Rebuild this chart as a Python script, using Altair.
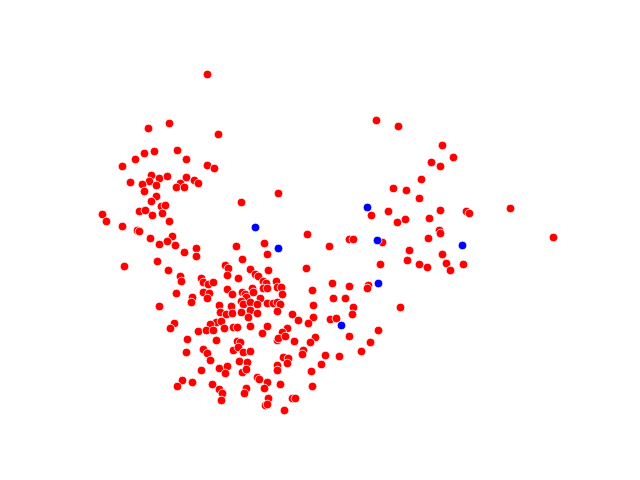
import altair as alt
import pandas as pd

red_pts = [
    (207,74),(169,123),(148,128),(218,134),(154,151),(144,153),(177,150),(135,159),(186,159),(122,166),(207,165),(214,168),
    (130,182),(151,175),(149,181),(159,178),(167,176),(186,177),(194,180),
    (142,184),(156,185),(180,183),(198,183),(176,187),(184,187),(144,191),
    (156,196),(151,201),(161,206),(165,205),(241,202),(102,214),(106,221),(139,211),(145,210),(152,215),(162,213),
    (169,221),(122,226),(137,230),(139,231),(150,238),(172,236),(167,241),(159,244),(175,245),(184,252),(196,248),
    (196,256),(236,246),
    (278,193),(393,188),(406,190),(371,215),(388,211),(397,222),(405,219),(307,234),(264,243),(267,254),(329,246),
    (349,239),(353,239),(382,242),(409,250),
    (376,120),(398,126),
    (442,145),(453,157),(431,162),(440,166),(421,179),
    (419,198),(440,210),(466,211),(469,213),(510,208),(429,218),(439,230),(440,233),(428,238),(553,237),(442,254),
    (419,264),(427,267),(446,263),(450,270),(463,264),(407,260),
    (380,264),(332,283),(349,286),(368,285),(367,288),(312,290),(333,298),(345,298),(353,307),(400,307),(313,305),
    (313,317),(352,314),(330,319),(336,318),(349,336),(378,330),(315,337),(310,342),(370,342),(325,355),(339,356),
    (361,351),(321,364),(311,371),(312,386),
    (124,266),(157,261),(159,306),
    (168,270),(180,276),(181,281),(201,278),(203,282),(208,284),(213,282),(225,265),(228,268),(227,275),(176,293),
    (203,292),(209,293),(207,298),(192,297),(191,302),(227,289),(232,294),(219,305),(231,306),(220,312),(226,314),
    (232,313),(174,323),(170,328),(216,322),(221,321),(210,324),(224,328),(233,327),(198,331),(206,330),(213,330),
    (242,259),(250,269),(268,270),(306,268),(238,278),(255,274),(258,276),(263,281),(266,283),(276,281),(252,288),
    (263,288),(267,288),(277,287),(281,287),(242,292),(245,294),(253,292),(282,294),(246,297),(241,301),(243,304),
    (250,302),(260,298),(267,303),(273,303),(257,304),(277,302),(280,304),(250,310),(241,312),(257,313),(248,317),
    (277,311),(292,314),(298,320),(308,323),(237,327),(250,326),(267,326),(287,328),(262,333),(282,332),
    (187,339),(216,340),(186,352),(203,349),(207,353),(210,360),(233,350),(201,370),(219,368),(227,366),(225,373),
    (182,380),(177,386),(192,382),(212,384),(219,389),(222,393),(221,400),
    (237,341),(240,342),(238,347),(277,340),(278,338),(285,336),(294,341),(303,350),(302,354),(243,352),(250,351),
    (239,361),(247,362),(242,372),(246,369),(283,357),(288,358),(287,363),(277,365),(277,370),(257,377),(259,379),
    (267,382),(264,388),(280,384),(246,388),(244,393),(292,398),(295,398),(268,398),(265,405),(267,404),(284,410),
]
blue_pts = [(255,227),(278,248),(367,207),(377,240),(462,245),(378,283),(341,325)]

red_x = [p[0] for p in red_pts]
red_y = [p[1] for p in red_pts]
blue_x = [p[0] for p in blue_pts]
blue_y = [p[1] for p in blue_pts]

df = pd.DataFrame({
    "x": red_x + blue_x,
    "y": red_y + blue_y,
    "group": ["red"] * len(red_x) + ["blue"] * len(blue_x),
})

chart = alt.Chart(df).mark_circle(
    size=74, opacity=1, stroke="white", strokeWidth=0.8
).encode(
    x=alt.X("x:Q", scale=alt.Scale(domain=[79.5, 575.5], nice=False, zero=False), axis=None),
    y=alt.Y("y:Q", scale=alt.Scale(domain=[57.5, 426.5], nice=False, zero=False, reverse=True), axis=None),
    color=alt.Color("group:N", scale=alt.Scale(domain=["red", "blue"], range=["#ff0000", "#0000ff"]), legend=None),
).properties(
    width=496, height=369,
    padding={"left": 72, "top": 50, "right": 0, "bottom": 0},
    autosize=alt.AutoSizeParams(type="none"),
).configure_view(stroke=None)

chart.save("out.html", embed_options={"renderer": "svg", "actions": False})
